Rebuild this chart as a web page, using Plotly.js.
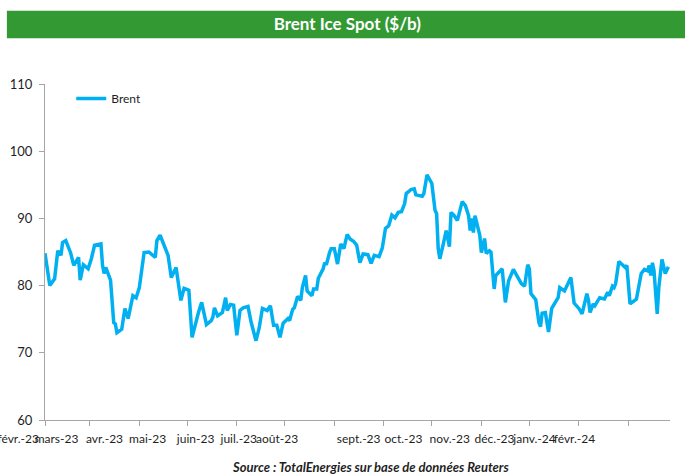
<!DOCTYPE html>
<html>
<head>
<meta charset="utf-8">
<script src="https://cdn.plot.ly/plotly-3.0.1.min.js"></script>
<style>html,body{margin:0;padding:0;background:#fff;}#chart{width:685px;height:474px;}</style>
</head>
<body>
<div id="chart"></div>
<script>
// ---- Data ----
const seriesName = "Brent";
const dates = [
"2023-02-01","2023-02-04","2023-02-07","2023-02-09","2023-02-11","2023-02-12","2023-02-14","2023-02-16","2023-02-17","2023-02-19",
"2023-02-22","2023-02-23","2023-02-25","2023-02-28","2023-03-02","2023-03-04","2023-03-08","2023-03-09","2023-03-10","2023-03-11",
"2023-03-14","2023-03-16","2023-03-17","2023-03-18","2023-03-21","2023-03-23","2023-03-25","2023-03-28","2023-03-30","2023-04-01",
"2023-04-04","2023-04-07","2023-04-11","2023-04-12","2023-04-14","2023-04-16","2023-04-18","2023-04-19","2023-04-21","2023-04-24",
"2023-04-27","2023-04-29","2023-05-02","2023-05-04","2023-05-08","2023-05-10","2023-05-13","2023-05-16","2023-05-17","2023-05-18",
"2023-05-20","2023-05-23","2023-05-25","2023-05-26","2023-05-28","2023-05-30","2023-06-01","2023-06-03","2023-06-05","2023-06-08",
"2023-06-10","2023-06-13","2023-06-15","2023-06-17","2023-06-20","2023-06-22","2023-06-24","2023-06-26","2023-06-28","2023-06-30",
"2023-07-03","2023-07-04","2023-07-06","2023-07-07","2023-07-09","2023-07-11","2023-07-12","2023-07-14","2023-07-15","2023-07-18",
"2023-07-19","2023-07-21","2023-07-22","2023-07-25","2023-07-26","2023-07-27","2023-07-29","2023-07-30","2023-08-01","2023-08-03",
"2023-08-05","2023-08-07","2023-08-09","2023-08-11","2023-08-13","2023-08-15","2023-08-17","2023-08-19","2023-08-22","2023-08-24",
"2023-08-26","2023-08-29","2023-08-31","2023-09-02","2023-09-04","2023-09-06","2023-09-08","2023-09-10","2023-09-12","2023-09-14",
"2023-09-15","2023-09-18","2023-09-20","2023-09-21","2023-09-25","2023-09-26","2023-09-28","2023-09-30","2023-10-01","2023-10-03",
"2023-10-04","2023-10-05","2023-10-06","2023-10-08","2023-10-10","2023-10-12","2023-10-13","2023-10-15","2023-10-17","2023-10-20",
"2023-10-22","2023-10-24","2023-10-25","2023-10-26","2023-10-27","2023-10-28","2023-10-30","2023-10-31","2023-11-01","2023-11-03",
"2023-11-04","2023-11-06","2023-11-07","2023-11-09","2023-11-10","2023-11-13","2023-11-14","2023-11-16","2023-11-18","2023-11-21",
"2023-11-23","2023-11-26","2023-11-28","2023-11-30","2023-12-01","2023-12-02","2023-12-05","2023-12-07","2023-12-08","2023-12-09",
"2023-12-11","2023-12-13","2023-12-15","2023-12-17","2023-12-19","2023-12-20","2023-12-23","2023-12-27","2023-12-29","2024-01-01",
"2024-01-03","2024-01-06","2024-01-07","2024-01-08","2024-01-10","2024-01-11","2024-01-14","2024-01-17","2024-01-19","2024-01-20",
"2024-01-22","2024-01-23","2024-01-24","2024-01-26","2024-01-28","2024-01-30","2024-01-31","2024-02-02","2024-02-05","2024-02-06",
"2024-02-09","2024-02-11","2024-02-13","2024-02-14","2024-02-15","2024-02-16","2024-02-17","2024-02-19","2024-02-20","2024-02-22",
"2024-02-24","2024-02-26"
];
const brent = [
84.8,80.0,81.0,85.2,84.5,86.4,86.7,85.5,84.9,83.0,
84.2,80.8,83.1,82.5,84.0,86.0,86.2,83.0,81.8,82.7,
80.8,74.5,74.3,73.0,73.5,76.6,75.1,78.5,78.2,79.7,
84.9,85.0,84.2,86.7,87.5,86.3,84.9,84.5,81.2,82.7,
77.8,79.6,79.3,72.3,76.0,77.5,74.2,74.8,75.3,76.7,
75.5,76.0,78.2,76.3,77.2,77.1,72.6,76.3,76.7,76.9,
74.5,71.8,73.7,76.6,76.3,77.0,74.1,74.1,72.3,74.4,
75.1,74.8,76.5,76.7,78.4,77.8,79.7,81.5,79.2,78.5,
79.5,79.5,81.1,82.5,83.4,83.1,84.9,85.5,85.5,83.2,
86.2,85.5,87.6,86.9,86.6,86.0,83.4,84.7,84.6,83.3,
84.5,84.3,85.6,88.5,88.9,90.5,90.1,90.9,91.0,92.2,
93.7,94.3,94.4,93.5,93.3,93.7,96.5,95.5,95.2,91.2,
90.7,85.5,84.0,86.0,88.2,85.8,90.9,90.4,89.7,92.5,
91.9,90.4,88.2,90.0,87.9,90.4,88.2,87.5,84.9,87.0,
84.8,85.2,85.0,79.5,81.5,82.4,82.5,77.5,80.7,82.4,
81.5,80.3,79.9,83.1,82.5,78.8,77.9,74.5,73.9,75.9,
76.0,73.1,76.6,77.3,78.2,79.7,79.2,81.2,77.4,76.6,
75.8,78.8,77.8,76.0,77.3,77.0,78.2,78.0,79.0,78.5,
79.9,79.7,80.3,83.6,83.1,82.7,83.0,77.3,77.8,78.0,
81.8,82.4,82.2,83.0,81.5,83.4,82.2,75.8,79.7,83.9,
81.8,82.8
];
// Month ticks and their labels
const monthTicks = ["2023-02-01","2023-03-01","2023-04-01","2023-05-01","2023-06-01","2023-07-01","2023-08-01",
  "2023-09-01","2023-10-01","2023-11-01","2023-12-01","2024-01-01","2024-02-01"];
const monthLabels = ["févr.-23","mars-23","avr.-23","mai-23","juin-23","juil.-23","août-23",
  "sept.-23","oct.-23","nov.-23","déc.-23","janv.-24","févr.-24"];
const yTicks = [60,70,80,90,100,110];
const titleText = "Brent Ice Spot ($/b)";
const sourceText = "Source : TotalEnergies sur base de données Reuters";

// label anchor dates (where the reference draws each month label, before a fixed left shift)
const labelAnchors = ["2023-02-03","2023-02-27","2023-03-29","2023-04-25","2023-05-25","2023-06-21","2023-07-15",
  "2023-09-04","2023-10-02","2023-10-31","2023-11-28","2023-12-23","2024-01-17"];

const xRange = ["2023-02-01","2024-02-27"];
const axisGray = "#a6a6a6";
const txt = "#1f1f1f";
const fam = "Lato, 'Open Sans', sans-serif";

const trace = {
  x: dates, y: brent, type: "scatter", mode: "lines", name: seriesName,
  line: {color: "#00b0f0", width: 3.5}, xaxis: "x", yaxis: "y"
};

const layout = {
  width: 685, height: 474,
  margin: {l: 45, r: 15, t: 84, b: 54},
  paper_bgcolor: "#ffffff", plot_bgcolor: "#ffffff",
  font: {family: fam, color: txt, size: 12},
  title: {text: titleText, font: {family: fam, size: 17, color: "#ffffff", weight: "bold"},
          xref: "container", yref: "container", x: 0.507, xanchor: "center", y: 0.949, yanchor: "middle"},
  showlegend: true,
  legend: {x: 0.042, y: 1.0, xanchor: "left", yanchor: "top", bgcolor: "rgba(0,0,0,0)",
           font: {family: fam, size: 12, color: txt}},
  xaxis: {
    type: "date", range: xRange, tickvals: monthTicks, showticklabels: false,
    ticks: "outside", ticklen: 5, tickcolor: axisGray, showline: true, linecolor: axisGray, linewidth: 1,
    showgrid: false, zeroline: false, fixedrange: true
  },
  xaxis2: {
    type: "date", range: xRange, overlaying: "x", anchor: "y", side: "bottom",
    tickvals: labelAnchors, ticktext: monthLabels, ticks: "", tickangle: 0, ticklabelshift: -30,
    ticklabeloverflow: "allow", ticklabelstandoff: 10,
    showline: false, showgrid: false, zeroline: false,
    tickfont: {family: fam, size: 12, color: txt}
  },
  yaxis: {
    range: [60, 110], tickvals: yTicks, ticks: "outside", ticklen: 5, tickcolor: axisGray,
    showline: true, linecolor: axisGray, linewidth: 1, showgrid: false, zeroline: false,
    ticklabelstandoff: 4, tickfont: {family: fam, size: 13, color: txt}
  },
  shapes: [{
    type: "rect", xref: "paper", yref: "paper",
    x0: -0.061, x1: 1.03, y0: 1.136, y1: 1.218,
    fillcolor: "#339933", line: {width: 0}, layer: "below"
  }],
  annotations: [{
    text: sourceText, xref: "paper", yref: "paper", x: 0.52, y: -0.14,
    xanchor: "center", yanchor: "middle", showarrow: false,
    font: {family: fam, size: 13, color: txt, weight: "bold", style: "italic"}
  }]
};

// empty trace on xaxis2 so the label axis is drawn
const anchorTrace = {x: [xRange[0]], y: [null], xaxis: "x2", yaxis: "y", type: "scatter",
  mode: "lines", showlegend: false, hoverinfo: "skip"};

Plotly.newPlot("chart", [trace, anchorTrace], layout, {staticPlot: true, displayModeBar: false});
</script>
</body>
</html>
